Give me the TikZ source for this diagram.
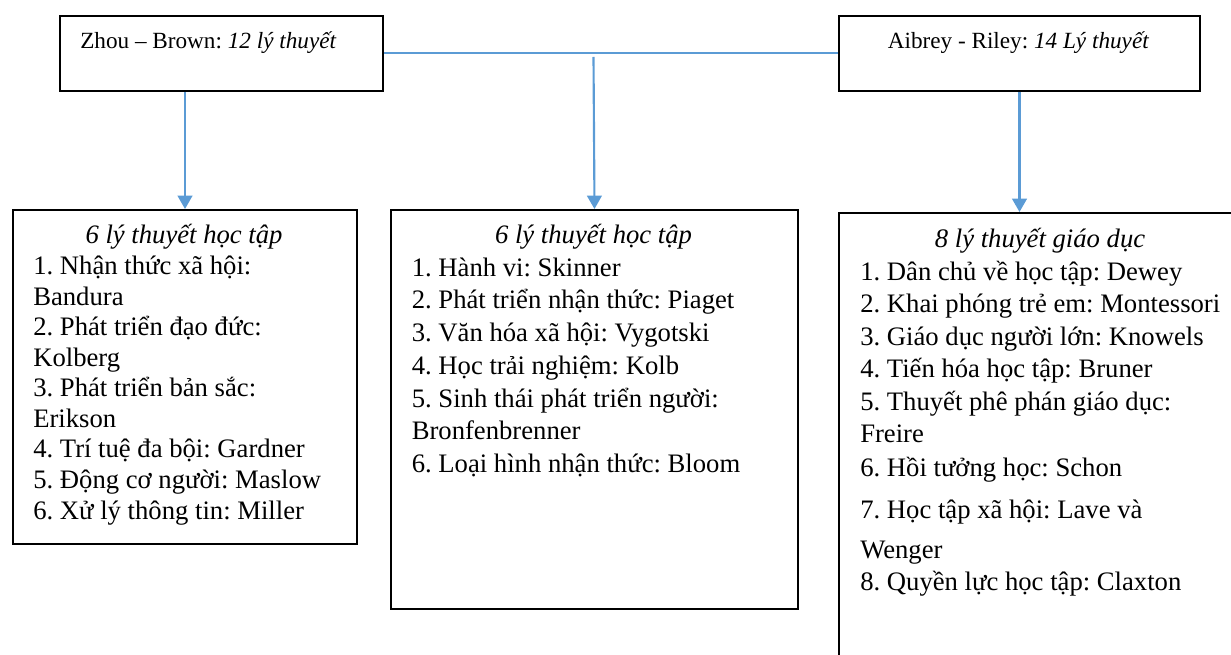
\documentclass[tikz,border=0pt]{standalone}
\usepackage{fontspec}
\setmainfont{Liberation Serif}
\usetikzlibrary{arrows.meta}
\frenchspacing
\definecolor{arrowblue}{RGB}{91,155,213}
\tikzset{
  box/.style={draw=black, line width=1.5pt, inner sep=0pt, anchor=north west},
  txt/.style={inner sep=0pt, anchor=base west, font=\fontsize{20}{23}\selectfont},
  ttl/.style={inner sep=0pt, anchor=base, font=\fontsize{20}{23}\selectfont\itshape},
  toptxt/.style={inner sep=0pt, font=\fontsize{17.4}{20}\selectfont},
  conn/.style={draw=arrowblue, line width=1.5pt},
  arr/.style={draw=arrowblue, line width=1.6pt, -{Triangle[length=10pt,width=11pt]}},
}
\begin{document}
\begin{tikzpicture}[x=0.75pt,y=-0.75pt]
\useasboundingbox (0,0) rectangle (1231,655);
\clip (0,0) rectangle (1231,655);

% top boxes
\node[box, minimum width=242.25pt, minimum height=56.25pt] (zhou) at (59,15) {};
\node[box, minimum width=270.75pt, minimum height=56.25pt] (aib) at (838,15) {};
\node[toptxt, anchor=base west] (zhoutxt) at (80,49) {Zhou – Brown: \textit{12 lý thuyết}};
\node[toptxt, anchor=base] (aibtxt) at (1018.5,49) {Aibrey - Riley: \textit{14 Lý thuyết}};

% bottom boxes
\node[box, minimum width=258pt, minimum height=250.5pt] (A) at (12,209) {};
\node[box, minimum width=305.25pt, minimum height=299.25pt] (B) at (390,209) {};
\node[box, minimum width=303pt, minimum height=360pt] (C) at (838,212) {};

% titles
\node[ttl] (Atitle) at (184,243.5) {6 lý thuyết học tập};
\node[ttl] (Btitle) at (593.5,244) {6 lý thuyết học tập};
\node[ttl] (Ctitle) at (1040,247.5) {8 lý thuyết giáo dục};

% lists
\foreach \y/\t [count=\i] in {
  275/{1. Nhận thức xã hội:},
  305.5/{Bandura},
  336/{2. Phát triển đạo đức:},
  366.5/{Kolberg},
  397/{3. Phát triển bản sắc:},
  427.5/{Erikson},
  458/{4. Trí tuệ đa bội: Gardner},
  488.5/{5. Động cơ người: Maslow},
  519/{6. Xử lý thông tin: Miller}}
  \node[txt] (a\i) at (33,\y) {\t};

\foreach \y/\t [count=\i] in {
  276.5/{1. Hành vi: Skinner},
  309/{2. Phát triển nhận thức: Piaget},
  342/{3. Văn hóa xã hội: Vygotski},
  375/{4. Học trải nghiệm: Kolb},
  407.5/{5. Sinh thái phát triển người:},
  440/{Bronfenbrenner},
  473/{6. Loại hình nhận thức: Bloom}}
  \node[txt] (b\i) at (411.5,\y) {\t};

\foreach \y/\t [count=\i] in {
  280.5/{1. Dân chủ về học tập: Dewey},
  313/{2. Khai phóng trẻ em: Montessori},
  345.5/{3. Giáo dục người lớn: Knowels},
  378/{4. Tiến hóa học tập: Bruner},
  410.5/{5. Thuyết phê phán giáo dục:},
  443/{Freire},
  476.5/{6. Hồi tưởng học: Schon},
  518/{7. Học tập xã hội: Lave và},
  558/{Wenger},
  590/{8. Quyền lực học tập: Claxton}}
  \node[txt] (c\i) at (860,\y) {\t};

% connectors
\draw[conn] (zhou.east) -- (aib.west);
\coordinate (midstart) at (593.5,57);
\draw[arr] (midstart) -- (B.north);
\draw[arr] (A.north |- zhou.south) -- (A.north);
\draw[arr] (aib.south) -- (aib.south |- C.north);
\end{tikzpicture}
\end{document}
